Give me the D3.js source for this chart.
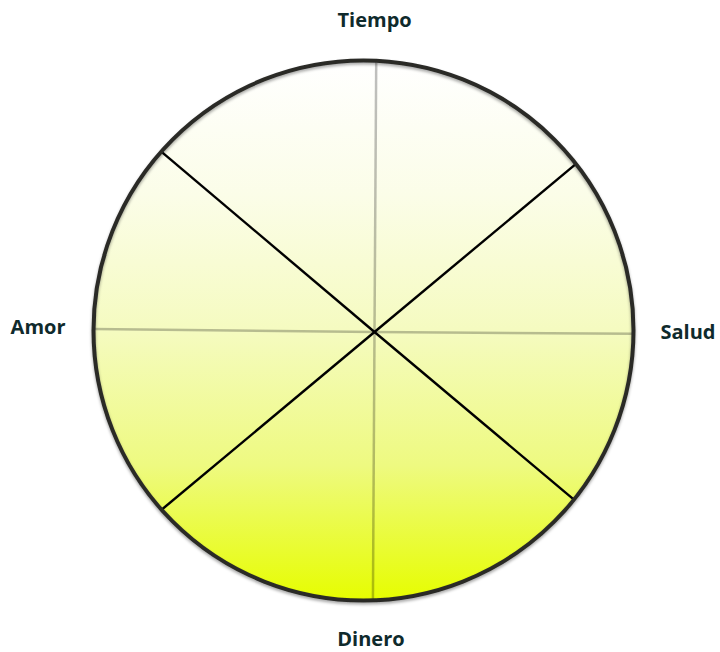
<!DOCTYPE html>
<html>
<head>
<meta charset="utf-8">
<script src="https://cdn.jsdelivr.net/npm/d3@7"></script>
<style>
    html, body { margin: 0; padding: 0; background: #ffffff; }
    svg { display: block; }
</style>
</head>
<body>
<div id="chart"></div>
<script>
'use strict';

// wheel categories, clockwise from the top
var categories = ['Tiempo', 'Salud', 'Dinero', 'Amor'];
// angle (degrees, clockwise from up) where each grey axis meets the rim
var axisAngles = [2.7, 90.7, 178.0, 270.3];
// angle where each black divider meets the rim
var dividerAngles = [51.9, 128.8, 228.4, 311.5];
// gradient stops, top to bottom
var gradientOffsets = [0, 0.25, 0.5, 0.75, 1];
var gradientColors = ['#ffffff', '#fbfde8', '#f5fbc0', '#eefa80', '#e6fd00'];

var width = 720;
var height = 652;
var cx = 363.5;
var cy = 330.5;
var radius = 270;
var hub = { dx: 11, dy: 1.5 };   // spokes meet slightly right of the rim centre
var labelPad = 30;

var angle = d3.scaleLinear().domain([0, 360]).range([0, 2 * Math.PI]);
var rimPoint = function (deg, r) {
    var p = d3.pointRadial(angle(deg), r);
    return [cx + p[0], cy + p[1]];
};

var svg = d3.select('#chart')
    .append('svg')
    .attr('width', width)
    .attr('height', height);

var defs = svg.append('defs');

var grad = defs.append('linearGradient')
    .attr('id', 'wheelFill')
    .attr('x1', 0).attr('y1', 0)
    .attr('x2', 0).attr('y2', 1);

grad.selectAll('stop')
    .data(gradientOffsets)
    .enter()
    .append('stop')
    .attr('offset', function (d) { return d; })
    .attr('stop-color', function (d, i) { return gradientColors[i]; });

var shadow = defs.append('filter')
    .attr('id', 'rimShadow')
    .attr('x', '-10%').attr('y', '-10%')
    .attr('width', '120%').attr('height', '120%');
shadow.append('feDropShadow')
    .attr('dx', 0)
    .attr('dy', 2)
    .attr('stdDeviation', 1.5)
    .attr('flood-color', '#000')
    .attr('flood-opacity', 0.35);

// wheel background
svg.append('circle')
    .attr('cx', cx)
    .attr('cy', cy)
    .attr('r', radius)
    .attr('fill', 'url(#wheelFill)');

var hx = cx + hub.dx;
var hy = cy + hub.dy;

// grey axes
svg.append('g')
    .attr('class', 'axes')
    .selectAll('line')
    .data(axisAngles)
    .enter()
    .append('line')
    .attr('x1', hx)
    .attr('y1', hy)
    .attr('x2', function (d) { return rimPoint(d, radius)[0]; })
    .attr('y2', function (d) { return rimPoint(d, radius)[1]; })
    .attr('stroke', 'rgba(0,0,0,0.25)')
    .attr('stroke-width', 2.5);

// black dividers
svg.append('g')
    .attr('class', 'dividers')
    .selectAll('line')
    .data(dividerAngles)
    .enter()
    .append('line')
    .attr('x1', hx)
    .attr('y1', hy)
    .attr('x2', function (d) { return rimPoint(d, radius)[0]; })
    .attr('y2', function (d) { return rimPoint(d, radius)[1]; })
    .attr('stroke', '#000')
    .attr('stroke-width', 2.4);

// rim
svg.append('circle')
    .attr('cx', cx)
    .attr('cy', cy)
    .attr('r', radius)
    .attr('fill', 'none')
    .attr('stroke', '#2b2b28')
    .attr('stroke-width', 4)
    .attr('filter', 'url(#rimShadow)');

// labels
var anchors = ['middle', 'start', 'middle', 'end'];
var baselineShift = [-4, 5, 16, 5];
var sideShift = [-3, -3, -3, 2];

svg.append('g')
    .attr('class', 'labels')
    .selectAll('text')
    .data(categories)
    .enter()
    .append('text')
    .attr('x', function (d, i) { return rimPoint(axisAngles[i], radius + labelPad)[0] + sideShift[i]; })
    .attr('y', function (d, i) { return rimPoint(axisAngles[i], radius + labelPad)[1] + baselineShift[i]; })
    .attr('text-anchor', function (d, i) { return anchors[i]; })
    .attr('font-family', '"Open Sans", Lato, sans-serif')
    .attr('font-weight', 700)
    .attr('font-size', 20)
    .attr('fill', '#0f2a2c')
    .text(function (d) { return d; });
</script>
</body>
</html>
